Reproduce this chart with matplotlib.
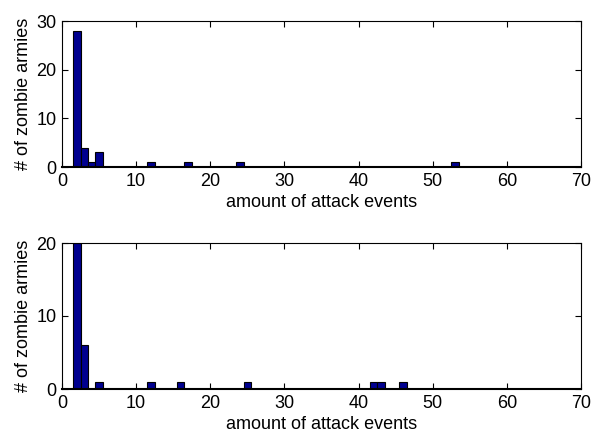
import matplotlib
matplotlib.use("Agg")
import matplotlib.pyplot as plt

plt.rcParams['font.family'] = ['Liberation Sans', 'DejaVu Sans']

top_x = [2, 3, 4, 5, 12, 17, 24, 53]
top_counts = [28, 4, 1, 3, 1, 1, 1, 1]
bot_x = [2, 3, 5, 12, 16, 25, 42, 43, 46]
bot_counts = [20, 6, 1, 1, 1, 1, 1, 1, 1]

xticks = [0, 10, 20, 30, 40, 50, 60, 70]
top_yticks = [0, 10, 20, 30]
bot_yticks = [0, 10, 20]

fig = plt.figure(figsize=(5.92, 4.37), dpi=100)
W, H = 592, 437
ax1 = fig.add_axes([62 / W, 1 - 167 / H, 519 / W, 146 / H])
ax2 = fig.add_axes([62 / W, 1 - 389 / H, 519 / W, 146 / H])

bar_color = '#00008F'
for ax, xs, cs, yt in [(ax1, top_x, top_counts, top_yticks), (ax2, bot_x, bot_counts, bot_yticks)]:
    ax.bar(xs, cs, width=1.0, color=bar_color, edgecolor='black', linewidth=0.8)
    ax.set_xlim(0, 70)
    ax.set_ylim(yt[0], yt[-1])
    ax.set_xticks(xticks)
    ax.set_yticks(yt)
    ax.tick_params(direction='in', top=True, right=True, labelsize=13, length=4, width=0.8, pad=4)
    for s in ax.spines.values():
        s.set_linewidth(0.8)
    ax.spines['bottom'].set_linewidth(1.5)
    ax.set_xlabel('amount of attack events', fontsize=13, labelpad=3)
    ax.set_ylabel('# of zombie armies', fontsize=13, labelpad=3)

fig.savefig('out.png', dpi=100)
